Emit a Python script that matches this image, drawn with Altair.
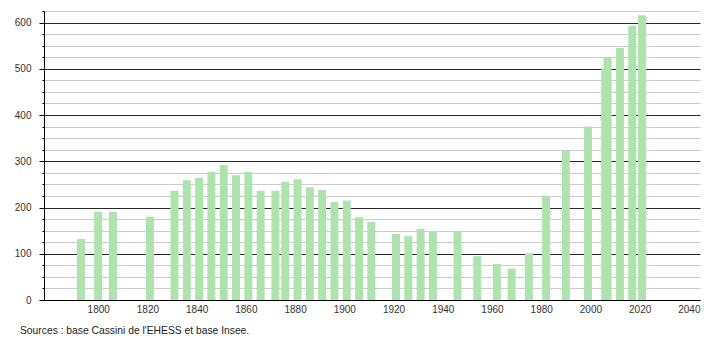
import altair as alt
import pandas as pd

years = [1793, 1800, 1806, 1821, 1831, 1836, 1841, 1846, 1851, 1856, 1861, 1866,
         1872, 1876, 1881, 1886, 1891, 1896, 1901, 1906, 1911, 1921, 1926, 1931,
         1936, 1946, 1954, 1962, 1968, 1975, 1982, 1990, 1999, 2006, 2007, 2012,
         2017, 2021]
population = [132, 191, 191, 180, 236, 259, 264, 277, 292, 270, 277, 236,
              236, 256, 261, 244, 238, 212, 215, 179, 169, 143, 138, 154,
              148, 148, 95, 78, 68, 101, 225, 323, 375, 501, 524, 545,
              593, 616]
x_ticks = [1800, 1820, 1840, 1860, 1880, 1900, 1920, 1940, 1960, 1980, 2000, 2020, 2040]
y_ticks = list(range(0, 626, 25))
source_text = "Sources : base Cassini de l'EHESS et base Insee."

df = pd.DataFrame({"year": years, "pop": population})

font = "Liberation Sans"

chart = alt.Chart(df).mark_bar(size=8, color="#aee3ae").encode(
    x=alt.X("year:Q",
            scale=alt.Scale(domain=[1780, 2042.5], nice=False, zero=False),
            axis=alt.Axis(values=x_ticks, title=None, grid=False, ticks=False,
                          domainColor="#000", labelPadding=4, labelFontSize=10,
                          labelColor="#333", labelFont=font, format="d")),
    y=alt.Y("pop:Q",
            scale=alt.Scale(domain=[0, 625], nice=False),
            axis=alt.Axis(values=y_ticks, title=None, grid=True,
                          gridColor=alt.ExprRef(expr="datum.value % 100 === 0 ? '#2a2a2a' : '#cccccc'"),
                          tickSize=alt.ExprRef(expr="datum.value % 100 === 0 ? 5 : 2"),
                          tickColor="#000", domainColor="#000",
                          labelExpr="datum.value % 100 === 0 ? datum.label : ''",
                          labelPadding=8, labelFontSize=10, labelColor="#333",
                          labelFont=font)),
).properties(
    width=656, height=289,
    autosize=alt.AutoSizeParams(type="none"),
    padding={"left": 44, "top": 11, "right": 10, "bottom": 40},
    title=alt.TitleParams(source_text, orient="bottom", anchor="start", frame="group",
                          fontSize=10.3, font=font, fontWeight="normal",
                          color="#222", dx=-24, offset=12),
).configure_view(stroke=None)

chart.save("out.html", embed_options={"renderer": "svg", "actions": False})
